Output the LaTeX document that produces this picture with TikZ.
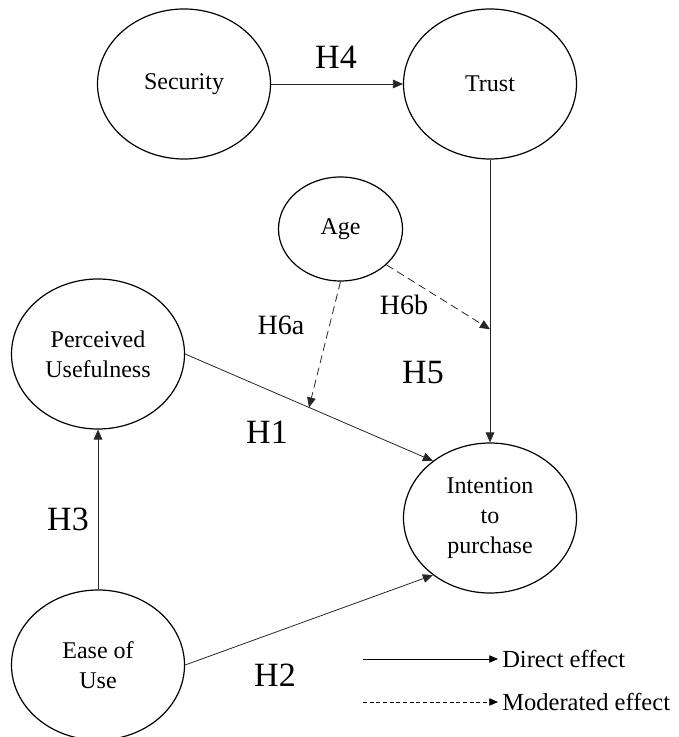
\documentclass[tikz,border=0pt]{standalone}
\usepackage{fontspec}
\setmainfont{Liberation Serif}
\usetikzlibrary{shapes.geometric,arrows.meta,calc}
\begin{document}
\begin{tikzpicture}[x=0.75pt,y=-0.75pt,
  construct/.style={draw,line width=0.9pt,ellipse,inner sep=0pt,
    minimum width=129.75pt,minimum height=112.5pt,align=center,
    font=\fontsize{18}{22.5}\selectfont},
  smallcon/.style={construct,minimum width=93pt,minimum height=78pt},
  link/.style={line width=0.6pt,draw=black!85,-{Triangle[length=7.5pt,width=6.5pt]}},
  modlink/.style={link,dash pattern=on 6pt off 3.5pt},
  hyp/.style={font=\fontsize{25.5}{30}\selectfont,inner sep=0pt},
  hypsmall/.style={font=\fontsize{21}{25}\selectfont,inner sep=0pt},
  legendtext/.style={font=\fontsize{18.4}{22}\selectfont,anchor=west,inner sep=3pt},
  legendlink/.style={line width=0.6pt,-{Triangle[length=6.5pt,width=5.5pt]}}
]
\useasboundingbox (0,0) rectangle (678,737);

\node[construct] (sec) at (184,84) {Security};
\node[construct] (tru) at (490,84) {Trust};
\node[smallcon] (age) at (340.5,229) {Age};
\node[construct] (pu) at (98,354) {Perceived\\Usefulness};
\node[construct] (int) at (490,518) {Intention\\to\\purchase};
\node[construct] (eou) at (98,665) {Ease of\\Use};

\draw[link] (sec.east) -- (tru.west);
\draw[link] (tru.south) -- (int.north);
\draw[link] (pu.east) -- (int.135);
\draw[link] (eou.east) -- (int.225);
\draw[link] (eou.north) -- (pu.south);

\coordinate (h6aend) at ($(pu.east)!0.5!(int.135)$);
\coordinate (h6bend) at ($(tru.south)!0.6!(int.north)$);
\draw[modlink] (age.south) -- (h6aend);
\draw[modlink] (age.-38) -- (h6bend);

\node[hyp] (h4) at (336,57) {H4};
\node[hypsmall] (h6a) at (281,325) {H6a};
\node[hypsmall] (h6b) at (404,305) {H6b};
\node[hyp] (h5) at (423,373) {H5};
\node[hyp] (h1) at (267,432) {H1};
\node[hyp] (h3) at (68,519) {H3};
\node[hyp] (h2) at (275,675) {H2};

\coordinate (l1s) at (363,659);
\coordinate (l2s) at (363,702);
\node[legendtext] (ld) at (498,659) {Direct effect};
\node[legendtext] (lm) at (498,702) {Moderated effect};
\draw[legendlink] (l1s) -- (ld.west);
\draw[legendlink,dash pattern=on 3pt off 2pt] (l2s) -- (lm.west);
\end{tikzpicture}
\end{document}
